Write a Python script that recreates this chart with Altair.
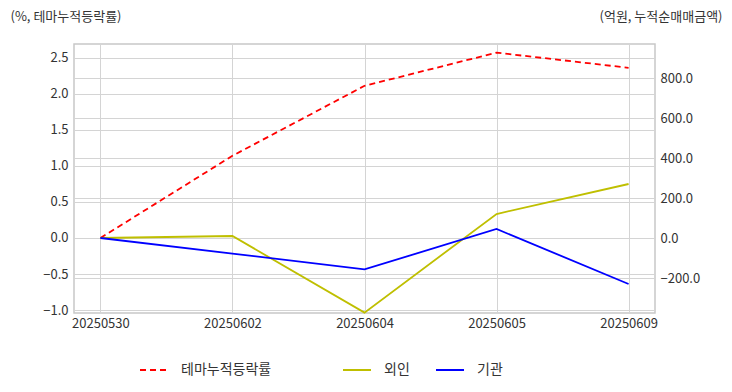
import altair as alt
import pandas as pd

dates = ["20250530", "20250602", "20250604", "20250605", "20250609"]
theme = [0.0, 1.14, 2.11, 2.57, 2.36]
foreign = [0.0, 10.0, -373.0, 120.0, 270.0]
inst = [0.0, -78.0, -157.0, 45.0, -230.0]

FONT = "Noto Sans CJK KR"

df_theme = pd.DataFrame({"date": dates, "value": theme, "series": "테마누적등락률"})
df_flow = pd.concat([
    pd.DataFrame({"date": dates, "value": foreign, "series": "외인"}),
    pd.DataFrame({"date": dates, "value": inst, "series": "기관"}),
])

W, H = 581, 269

xenc = alt.X("date:O", sort=dates,
             scale=alt.Scale(type="point", padding=0.2),
             axis=alt.Axis(title=None, labelAngle=0, grid=True, gridColor="#d4d4d4",
                           domain=False, ticks=False, labelPadding=4))

left = alt.Chart(df_theme).mark_line(strokeWidth=1.8, strokeDash=[6, 4]).encode(
    x=xenc,
    y=alt.Y("value:Q", scale=alt.Scale(domain=[-1.04, 2.69], nice=False, zero=False),
            axis=alt.Axis(orient="left", values=[-1.0, -0.5, 0.0, 0.5, 1.0, 1.5, 2.0, 2.5],
                          format=".1f", grid=True, gridColor="#d4d4d4", domain=False, ticks=False,
                          labelPadding=6,
                          title="(%, 테마누적등락률)", titleAngle=0, titleX=-64, titleY=-28,
                          titleAlign="left", titleBaseline="middle")),
    color=alt.Color("series:N", scale=alt.Scale(domain=["테마누적등락률"], range=["#ff0000"]),
                    legend=alt.Legend(orient="none", legendX=65, legendY=311, title=None,
                                      direction="horizontal", symbolDash=[6, 4])),
)

right = alt.Chart(df_flow).mark_line(strokeWidth=1.8).encode(
    x=xenc,
    y=alt.Y("value:Q", scale=alt.Scale(domain=[-375, 970], nice=False, zero=False),
            axis=alt.Axis(orient="right", values=[-200, 0, 200, 400, 600, 800],
                          format=".1f", grid=True, gridColor="#d4d4d4", domain=False, ticks=False,
                          labelPadding=5,
                          title="(억원, 누적순매매금액)", titleAngle=0, titleX=67, titleY=-28,
                          titleAlign="right", titleBaseline="middle")),
    color=alt.Color("series:N", sort=["외인", "기관"],
                    scale=alt.Scale(domain=["외인", "기관"], range=["#bfbf00", "#0000ff"]),
                    legend=alt.Legend(orient="none", legendX=268, legendY=311, title=None,
                                      direction="horizontal", columnPadding=22)),
)

chart = alt.layer(left, right).resolve_scale(y="independent", color="independent").properties(
    width=W, height=H,
    autosize=alt.AutoSizeParams(type="none"),
    padding={"left": 66, "top": 36, "right": 69, "bottom": 71},
    background="white",
).configure_view(stroke="#c8c8c8", strokeWidth=1.5).configure_axis(
    labelFont=FONT, labelFontSize=13, labelColor="#333333",
    titleFont=FONT, titleFontSize=13, titleColor="#333333", titleFontWeight="normal",
).configure_legend(
    labelFont=FONT, labelFontSize=14, labelColor="#333333",
    symbolType="stroke", symbolSize=784, symbolStrokeWidth=2, labelOffset=12,
)

chart.save("out.html", embed_options={"renderer": "svg", "actions": False})
